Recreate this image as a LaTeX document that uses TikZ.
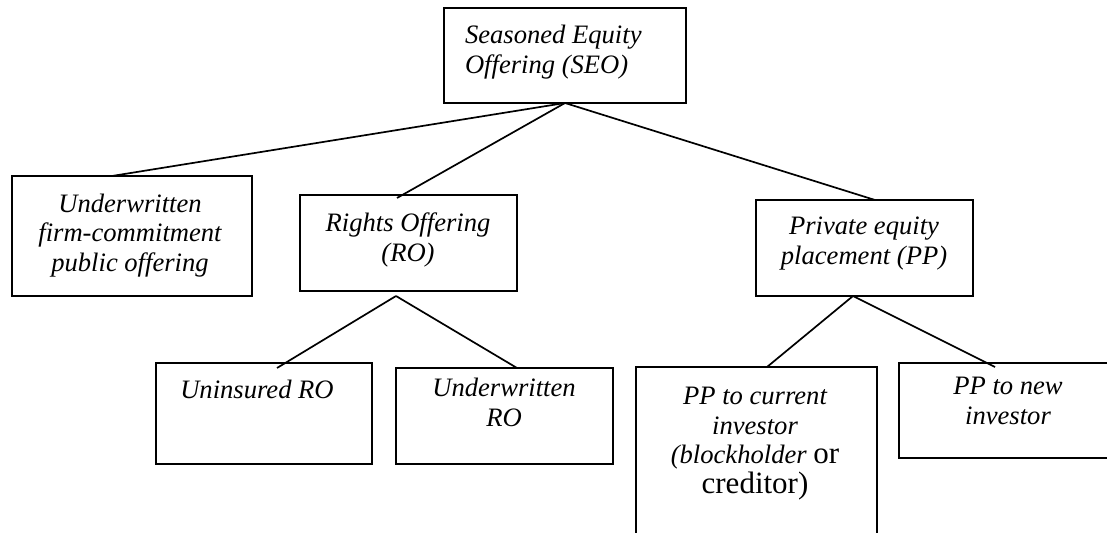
\documentclass[tikz,border=0pt]{standalone}
\usepackage{fontspec}
\setmainfont{Liberation Serif}
\usetikzlibrary{calc}
\newcommand\rmbig{\upshape\fontsize{15.5}{14.5}\selectfont}
\begin{document}
\begin{tikzpicture}[x=0.5pt,y=-0.5pt,
  box/.style={draw,line width=1.1pt,rectangle,inner sep=0pt,outer sep=0pt},
  link/.style={line width=0.85pt},
  lbl/.style={inner sep=0pt,outer sep=0pt,align=center,anchor=north,font=\fontsize{13.3}{14.8}\selectfont\itshape}]
\useasboundingbox (0,0) rectangle (1107,533);
\clip (0,0) rectangle (1107,533);
% boxes
\node[box,minimum width=121pt,minimum height=47.5pt] (seo) at (565,55.5) {};
\node[box,minimum width=120pt,minimum height=60pt] (uwf) at (132,236) {};
\node[box,minimum width=108.5pt,minimum height=48pt] (ro) at (408.5,243) {};
\node[box,minimum width=108.5pt,minimum height=48pt] (pp) at (864.5,248) {};
\node[box,minimum width=108pt,minimum height=50.5pt] (unins) at (264,413.5) {};
\node[box,minimum width=108.5pt,minimum height=48pt] (uwro) at (504.5,416) {};
\node[box,minimum width=120.5pt,minimum height=106.5pt] (ppc) at (756.5,473.5) {};
\node[box,minimum width=110.5pt,minimum height=47.5pt] (ppn) at (1009.5,410.5) {};
% texts
\node[lbl,anchor=north west,align=left] (seot) at (465,23) {\strut Seasoned Equity\\Offering (SEO)};
\node[lbl] (uwft) at (130,191.5) {\strut Underwritten\\firm-commitment\\public offering};
\node[lbl] (rot) at (408,211) {\strut Rights Offering\\(RO)};
\node[lbl] (ppt) at (864,214) {\strut Private equity\\placement (PP)};
\node[lbl] (uninst) at (257,378) {\strut Uninsured RO};
\node[lbl] (uwrot) at (504,376) {\strut Underwritten\\RO};
\node[lbl] (ppct) at (755,384) {\strut PP to current\\investor\\(blockholder {\rmbig or}\\{\rmbig creditor)}};
\node[lbl] (ppnt) at (1008,374) {\strut PP to new\\investor};
% connectors
\coordinate (seoA) at (seo.south);
\coordinate (roA) at ($(ro.south west)+(96,5)$);
\coordinate (ppA) at ($(pp.south west)+(97,0)$);
\draw[link] (seoA) -- ($(uwf.north west)+(100,0)$);
\draw[link] (seoA) -- ($(ro.north west)+(97,3)$);
\draw[link] (seoA) -- ($(pp.north west)+(119,0)$);
\draw[link] (roA) -- ($(unins.north west)+(121,5)$);
\draw[link] (roA) -- ($(uwro.north west)+(121,0)$);
\draw[link] (ppA) -- ($(ppc.north west)+(131,0)$);
\draw[link] (ppA) -- ($(ppn.north west)+(96,4)$);
\end{tikzpicture}
\end{document}
